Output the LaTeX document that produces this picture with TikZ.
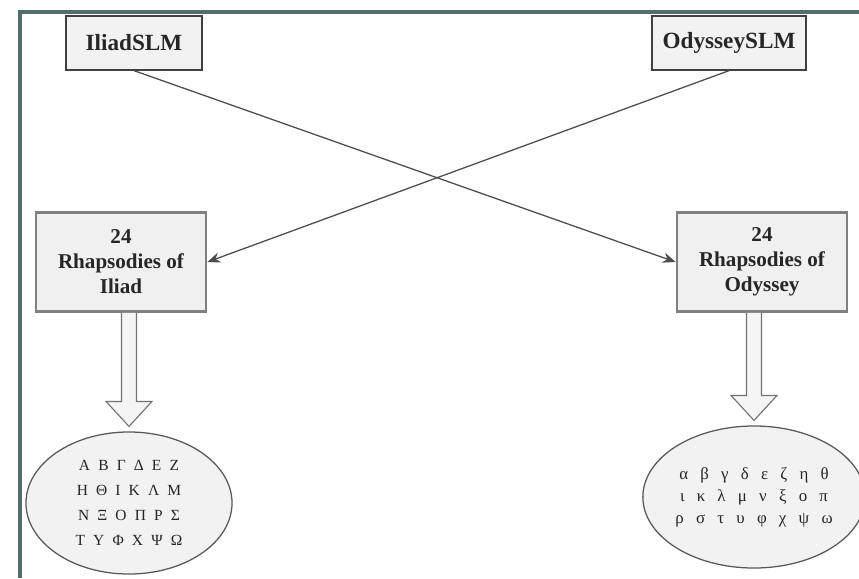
\documentclass[tikz,border=0pt]{standalone}
\usepackage{fontspec}
\setmainfont{Liberation Serif}
\newfontfamily\greekfont{Liberation Serif}
\newcommand\capsfont{\greekfont\fontsize{11}{17.7}\selectfont\spaceskip 5.8pt\relax}
\newcommand\smallfont{\greekfont\fontsize{12}{15.6}\selectfont\spaceskip 8.7pt\relax}
\usetikzlibrary{arrows.meta,positioning,shapes.geometric,calc}
\definecolor{framecol}{RGB}{78,110,112}

\begin{document}
\begin{tikzpicture}[x=0.025cm,y=-0.025cm,>=Stealth,
  slm/.style={draw=black!75,line width=0.9pt,fill=black!5,minimum width=3.4cm,minimum height=1.35cm,font=\fontsize{16.5}{20}\selectfont\bfseries,text=black!85},
  rhap/.style={draw=black!50,line width=2pt,fill=black!6,minimum width=4.25cm,minimum height=2.475cm,align=center,font=\fontsize{15}{17.7}\selectfont\bfseries,text=black!85},
  greek/.style={ellipse,draw=black!65,line width=0.9pt,fill=black!5,minimum width=5.15cm,minimum height=3.55cm,align=center,text=black!85,inner sep=0pt},
  link/.style={draw=black!70,line width=0.9pt,-{Stealth[length=3.2mm,width=2.6mm]}},
  bigarrow/.style={draw=black!55,line width=0.8pt,fill=black!4}]
\useasboundingbox (0,0) rectangle (859,578);
\draw[framecol,line width=2.2pt] (20,578) -- (20,12) -- (859,12);
\node[slm] (iliad_slm) at (134,43) {IliadSLM};
\node[slm,minimum width=3.85cm] (odyssey_slm) at (729,43) {OdysseySLM};
\node[rhap] (iliad_rh) at (121,262) {24\\Rhapsodies of\\Iliad};
\node[rhap] (odyssey_rh) at (762,262) {24\\Rhapsodies of\\Odyssey};
\node[greek,font=\capsfont] (iliad_abc) at (129,503) {Α Β Γ Δ Ε Ζ\\Η Θ Ι Κ Λ Μ\\Ν Ξ Ο Π Ρ Σ\\Τ Υ Φ Χ Ψ Ω};
\node[greek,font=\smallfont] (odyssey_abc) at (754,497) {α β γ δ ε ζ η θ\\ι κ λ μ ν ξ ο π\\ρ σ τ υ φ χ ψ ω};
\draw[link] (iliad_slm.south) -- (odyssey_rh.west);
\draw[link] (odyssey_slm.south) -- (iliad_rh.east);
\foreach \a/\b in {iliad_rh/iliad_abc,odyssey_rh/odyssey_abc}
  \draw[bigarrow] let \p1=(\a.south), \p2=(\b.north) in
    (\x2-5.3pt,\y1) -- (\x2-5.3pt,\y2+21.2pt) -- (\x2-16.3pt,\y2+21.2pt) -- (\x2,\y2+3.5pt)
    -- (\x2+16.3pt,\y2+21.2pt) -- (\x2+5.3pt,\y2+21.2pt) -- (\x2+5.3pt,\y1);
\end{tikzpicture}
\end{document}
